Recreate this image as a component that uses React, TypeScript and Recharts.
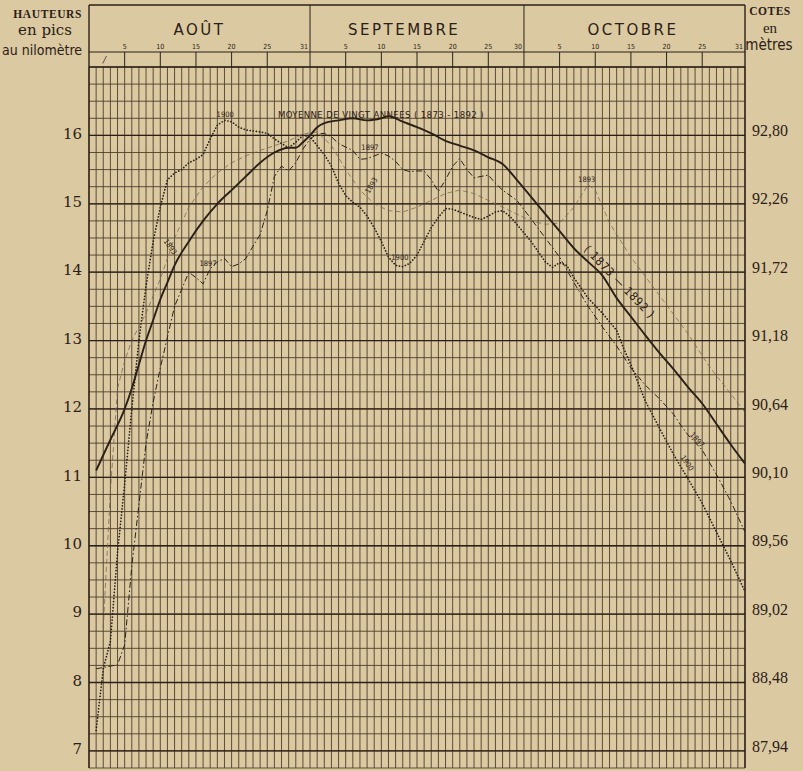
import React from 'react';
import { LineChart, Line, XAxis, YAxis, CartesianGrid, ReferenceDot } from 'recharts';

const W = 803;
const H = 771;
const LEFT_W = 89;
const RIGHT_W = 58;
const MONTH_AXIS_H = 40;
const DAY_AXIS_H = 27;
const BOTTOM_M = 3;
const HEADER_TOP = 5;
const HEADER_MID = 52;
const PLOT_TOP = MONTH_AXIS_H + DAY_AXIS_H;
const PLOT_BOTTOM = H - BOTTOM_M;
const PLOT_RIGHT = W - RIGHT_W;

const BG = '#dbc9a1';
const INK = '#2b2016';
const GRID = '#4e3e2c';
const SERIF_A = 'DejaVu Serif';
const SERIF_B = 'Liberation Serif';
const NARROW = "'DejaVu Sans Condensed', 'Liberation Sans Narrow', 'DejaVu Sans', sans-serif";

// Day index: 1 = 1 août ... 31 = 31 août, 32 = 1 sept ... 61 = 30 sept, 62 = 1 oct ... 92 = 31 oct
// Hauteurs en pics au nilomètre

// Moyenne de vingt années (1873-1892)
const meanDays = [1, 3, 5, 6, 7, 8, 9, 10, 11, 12, 14, 16, 18, 20, 22, 24, 26, 28, 29, 30, 31, 32, 33, 35, 37, 39, 41, 42, 44, 46, 48, 50, 52, 54, 56, 58, 60, 62, 64, 66, 68, 70, 72, 74, 76, 78, 80, 82, 84, 86, 88, 90, 92];
const meanValues = [11.1, 11.55, 12.0, 12.3, 12.65, 13.0, 13.3, 13.6, 13.85, 14.1, 14.45, 14.75, 15.0, 15.2, 15.4, 15.6, 15.75, 15.82, 15.82, 15.9, 16.0, 16.12, 16.18, 16.22, 16.25, 16.22, 16.25, 16.28, 16.2, 16.12, 16.03, 15.92, 15.85, 15.78, 15.68, 15.58, 15.35, 15.1, 14.85, 14.6, 14.35, 14.15, 13.95, 13.62, 13.35, 13.08, 12.82, 12.58, 12.32, 12.08, 11.78, 11.48, 11.2];

// Crue de 1900 (pointillé)
const days1900 = [1, 2, 3, 4, 5, 6, 7, 8, 9, 10, 11, 12, 13, 14, 15, 16, 17, 18, 19, 20, 21, 22, 24, 25, 26, 27, 28, 29, 30, 31, 32, 33, 34, 35, 36, 37, 38, 39, 40, 41, 42, 43, 44, 45, 46, 47, 48, 49, 50, 51, 52, 54, 55, 56, 57, 58, 59, 60, 62, 64, 65, 66, 67, 68, 70, 72, 74, 75, 76, 78, 80, 82, 84, 86, 88, 90, 92];
const values1900 = [7.3, 8.2, 8.6, 9.9, 10.9, 12.0, 13.0, 13.8, 14.45, 14.95, 15.35, 15.45, 15.5, 15.6, 15.65, 15.72, 15.95, 16.15, 16.22, 16.2, 16.12, 16.08, 16.05, 16.03, 15.95, 15.88, 15.82, 15.9, 16.0, 15.98, 15.85, 15.72, 15.55, 15.3, 15.12, 15.02, 14.95, 14.82, 14.65, 14.45, 14.22, 14.1, 14.08, 14.13, 14.25, 14.45, 14.65, 14.8, 14.93, 14.92, 14.88, 14.8, 14.77, 14.82, 14.88, 14.9, 14.82, 14.7, 14.45, 14.15, 14.07, 14.14, 14.1, 13.92, 13.62, 13.4, 13.15, 12.88, 12.65, 12.12, 11.72, 11.33, 10.98, 10.62, 10.2, 9.78, 9.33];

// Crue de 1897 (trait mixte)
const days1897 = [1, 2, 3, 4, 5, 6, 7, 8, 9, 10, 11, 12, 13, 14, 15, 16, 17, 18, 19, 20, 21, 22, 23, 24, 25, 26, 27, 28, 29, 30, 31, 32, 33, 34, 35, 36, 37, 38, 39, 40, 41, 42, 43, 44, 45, 46, 47, 48, 49, 50, 51, 52, 53, 54, 55, 56, 57, 58, 60, 62, 64, 66, 68, 70, 72, 74, 76, 78, 80, 82, 83, 84, 86, 88, 90, 92];
const values1897 = [8.2, 8.22, 8.24, 8.26, 8.55, 9.7, 10.6, 11.5, 12.1, 12.6, 13.05, 13.5, 13.75, 14.0, 13.92, 13.83, 14.05, 14.15, 14.2, 14.08, 14.12, 14.2, 14.38, 14.55, 14.9, 15.4, 15.55, 15.48, 15.6, 15.8, 15.95, 16.02, 16.03, 15.98, 15.88, 15.83, 15.78, 15.65, 15.66, 15.7, 15.74, 15.7, 15.62, 15.5, 15.47, 15.48, 15.48, 15.35, 15.18, 15.35, 15.55, 15.66, 15.5, 15.38, 15.4, 15.42, 15.3, 15.2, 15.05, 14.78, 14.5, 14.22, 13.85, 13.5, 13.2, 12.92, 12.6, 12.35, 12.15, 11.92, 11.76, 11.62, 11.4, 11.04, 10.65, 10.2];

// Crue de 1893 (trait fin)
const days1893 = [2, 3, 4, 5, 6, 8, 10, 12, 14, 16, 18, 20, 22, 24, 26, 28, 30, 32, 34, 36, 38, 40, 42, 44, 46, 48, 50, 52, 54, 56, 58, 60, 62, 64, 66, 68, 70, 71, 73, 76, 80, 84, 87, 90, 92];
const values1893 = [8.8, 10.8, 12.3, 12.7, 13.0, 13.4, 13.9, 14.5, 14.95, 15.25, 15.45, 15.6, 15.7, 15.78, 15.85, 15.92, 16.02, 16.05, 15.85, 15.5, 15.2, 15.0, 14.9, 14.88, 14.95, 15.05, 15.15, 15.2, 15.15, 15.05, 14.95, 14.85, 14.75, 14.7, 14.72, 14.95, 15.28, 15.2, 14.72, 14.22, 13.66, 13.1, 12.62, 12.22, 11.95];

// Axes
const dayTicks = [0, 5, 10, 15, 20, 25, 31, 36, 41, 46, 51, 56, 61, 66, 71, 76, 81, 86, 92];
const dayTickLabels = ['', '5', '10', '15', '20', '25', '31', '5', '10', '15', '20', '25', '30', '5', '10', '15', '20', '25', '31'];
const monthEdges = [31, 61];
const monthCenters = [15.5, 44.2, 76.3];
const monthNames = ['AOÛT', 'SEPTEMBRE', 'OCTOBRE'];
const levelTicks = [7, 8, 9, 10, 11, 12, 13, 14, 15, 16];
const leftTickLabels = ['7', '8', '9', '10', '11', '12', '13', '14', '15', '16'];
const rightTickLabels = ['87,94', '88,48', '89,02', '89,56', '90,10', '90,64', '91,18', '91,72', '92,26', '92,80'];

const X_DOMAIN: [number, number] = [0, 92];
const Y_DOMAIN: [number, number] = [6.75, 17];
const gridDays = Array.from({ length: 93 }, (_, i) => i);
const gridLevels = Array.from({ length: 42 }, (_, i) => 6.75 + i * 0.25);
const gridWholeLevels = [7, 8, 9, 10, 11, 12, 13, 14, 15, 16, 17];

// Annotations written on the chart (day, level)
const notes = [
  { day: 40.95, v: 16.3, text: 'MOYENNE DE VINGT ANNEES ( 1873 - 1892 )', rot: 0, size: 9.5, ls: 0.4 },
  { day: 19.1, v: 16.3, text: '1900', rot: 0, size: 7.5, ls: 0 },
  { day: 11.4, v: 14.37, text: '1893', rot: 55, size: 7.5, ls: 0 },
  { day: 16.7, v: 14.13, text: '1897', rot: 0, size: 7.5, ls: 0 },
  { day: 43.6, v: 14.21, text: '1900', rot: 0, size: 7.5, ls: 0 },
  { day: 39.4, v: 15.82, text: '1897', rot: 0, size: 7.5, ls: 0 },
  { day: 39.6, v: 15.27, text: '1893', rot: -60, size: 7.5, ls: 0 },
  { day: 69.8, v: 15.35, text: '1893', rot: 0, size: 7.5, ls: 0 },
  { day: 74.4, v: 13.86, text: '( 1873 — 1892 )', rot: 46, size: 11.5, ls: 0.8 },
  { day: 85.3, v: 11.55, text: '1897', rot: 48, size: 7.5, ls: 0 },
  { day: 83.9, v: 11.21, text: '1900', rot: 55, size: 7.5, ls: 0 },
];

const toSeries = (days: number[], vals: number[]) => days.map((d, i) => ({ day: d, v: vals[i] }));
const meanData = toSeries(meanDays, meanValues);
const data1900 = toSeries(days1900, values1900);
const data1897 = toSeries(days1897, values1897);
const data1893 = toSeries(days1893, values1893);

const xGen = (p: any) => {
  const s = p?.xAxis?.scale;
  if (typeof s === 'function') return gridDays.map((d) => s(d));
  const o = p.offset;
  return gridDays.map((d) => o.left + ((d - X_DOMAIN[0]) / (X_DOMAIN[1] - X_DOMAIN[0])) * o.width);
};
const yGenFor = (levels: number[]) => (p: any) => {
  const s = p?.yAxis?.scale;
  if (typeof s === 'function') return levels.map((v) => s(v));
  const o = p.offset;
  return levels.map((v) => o.top + ((Y_DOMAIN[1] - v) / (Y_DOMAIN[1] - Y_DOMAIN[0])) * o.height);
};

const renderDayTick = (p: any) => {
  const x = p.x;
  const v = p.payload?.value;
  const idx = dayTicks.indexOf(v);
  const label = idx >= 0 ? dayTickLabels[idx] : '';
  const isEdge = monthEdges.includes(v);
  const isBorder = v === X_DOMAIN[0] || v === X_DOMAIN[1];
  return (
    <g key={`d-${v}`}>
      {v === X_DOMAIN[0] && (
        <>
          <line x1={x} x2={PLOT_RIGHT} y1={HEADER_TOP} y2={HEADER_TOP} stroke={INK} strokeWidth={1.3} />
          <line x1={x} x2={PLOT_RIGHT} y1={HEADER_MID} y2={HEADER_MID} stroke={INK} strokeWidth={1} />
          <text x={x + 14} y={63} fontSize={9} fontStyle="italic" fontFamily={SERIF_A} fill={INK}>/</text>
        </>
      )}
      {isBorder ? (
        <line x1={x} x2={x} y1={HEADER_TOP} y2={PLOT_BOTTOM} stroke={INK} strokeWidth={1.4} />
      ) : (
        <line x1={x} x2={x} y1={isEdge ? HEADER_TOP : HEADER_MID} y2={PLOT_TOP} stroke={INK} strokeWidth={1} />
      )}
      {label && (
        <text
          x={isEdge || v === X_DOMAIN[1] ? x - 2 : x}
          y={49}
          textAnchor={isEdge || v === X_DOMAIN[1] ? 'end' : 'middle'}
          fontSize={7}
          fontFamily={NARROW}
          fill={INK}
        >
          {label}
        </text>
      )}
    </g>
  );
};

const renderMonthTick = (p: any) => {
  const idx = monthCenters.indexOf(p.payload?.value);
  return (
    <text
      key={`m-${idx}`}
      x={p.x}
      y={35}
      textAnchor="middle"
      fontSize={15}
      letterSpacing={2.5}
      fontFamily="DejaVu Sans"
      fill={INK}
    >
      {idx >= 0 ? monthNames[idx] : ''}
    </text>
  );
};

const renderLeftTick = (p: any) => {
  const idx = levelTicks.indexOf(p.payload?.value);
  return (
    <text key={`l-${idx}`} x={p.x} y={p.y - 2} dy="0.35em" textAnchor="end" fontSize={15} style={{ fontFamily: SERIF_A }} fill={INK}>
      {idx >= 0 ? leftTickLabels[idx] : ''}
    </text>
  );
};

const renderRightTick = (p: any) => {
  const idx = levelTicks.indexOf(p.payload?.value);
  return (
    <text key={`r-${idx}`} x={p.x} y={p.y - 5} dy="0.35em" textAnchor="start" fontSize={16} style={{ fontFamily: SERIF_B }} fill={INK}>
      {idx >= 0 ? rightTickLabels[idx] : ''}
    </text>
  );
};

const NoteShape = (n: (typeof notes)[number]) => (sp: any) => {
  const cx = sp.cx;
  const cy = sp.cy;
  return (
    <text
      x={cx}
      y={cy}
      dy="0.35em"
      textAnchor="middle"
      fontSize={n.size}
      letterSpacing={n.ls}
      fontFamily={NARROW}
      fill={INK}
      transform={n.rot ? `rotate(${n.rot} ${cx} ${cy})` : undefined}
    >
      {n.text}
    </text>
  );
};

export default function App() {
  return (
    <div style={{ position: 'relative', width: W, height: H, background: BG, overflow: 'hidden' }}>
      <style>{`body{margin:0;background:${BG};}`}</style>
      <LineChart
        width={W}
        height={H}
        margin={{ top: 0, right: 0, bottom: BOTTOM_M, left: 0 }}
      >
        <XAxis xAxisId={0} dataKey="day" type="number" domain={X_DOMAIN} allowDataOverflow hide />
        <XAxis
          xAxisId="months"
          dataKey="day"
          orientation="top"
          type="number"
          domain={X_DOMAIN}
          allowDataOverflow
          ticks={monthCenters}
          interval={0}
          height={MONTH_AXIS_H}
          axisLine={false}
          tickLine={false}
          tick={renderMonthTick}
        />
        <XAxis
          xAxisId="days"
          dataKey="day"
          orientation="top"
          type="number"
          domain={X_DOMAIN}
          allowDataOverflow
          ticks={dayTicks}
          interval={0}
          height={DAY_AXIS_H}
          axisLine={false}
          tickLine={false}
          tick={renderDayTick}
        />
        <YAxis
          yAxisId="left"
          type="number"
          domain={Y_DOMAIN}
          allowDataOverflow
          ticks={levelTicks}
          interval={0}
          width={LEFT_W}
          axisLine={false}
          tickLine={false}
          tickSize={0}
          tickMargin={7}
          tick={renderLeftTick}
        />
        <YAxis
          yAxisId="right"
          orientation="right"
          type="number"
          domain={Y_DOMAIN}
          allowDataOverflow
          ticks={levelTicks}
          interval={0}
          width={RIGHT_W}
          axisLine={false}
          tickLine={false}
          tickSize={0}
          tickMargin={7}
          tick={renderRightTick}
        />
        <CartesianGrid
          xAxisId={0}
          yAxisId="left"
          stroke={GRID}
          strokeWidth={0.9}
          fill="none"
          verticalCoordinatesGenerator={xGen}
          horizontalCoordinatesGenerator={yGenFor(gridLevels)}
        />
        <CartesianGrid
          xAxisId={0}
          yAxisId="left"
          stroke={INK}
          strokeWidth={1.3}
          fill="none"
          vertical={false}
          horizontalCoordinatesGenerator={yGenFor(gridWholeLevels)}
        />
        {/* invisible carriers so the header axes and the metre scale are laid out */}
        <Line data={meanData} xAxisId="months" yAxisId="right" dataKey="v" stroke="none" dot={false} activeDot={false} legendType="none" isAnimationActive={false} />
        <Line data={meanData} xAxisId="days" yAxisId="right" dataKey="v" stroke="none" dot={false} activeDot={false} legendType="none" isAnimationActive={false} />
        <Line
          data={data1893}
          xAxisId={0}
          yAxisId="left"
          dataKey="v"
          type="linear"
          stroke="#75634b"
          strokeWidth={0.75}
          strokeDasharray="5 3"
          dot={false}
          isAnimationActive={false}
        />
        <Line
          data={data1897}
          xAxisId={0}
          yAxisId="left"
          dataKey="v"
          type="linear"
          stroke={INK}
          strokeWidth={1}
          strokeDasharray="6 2.5 1.5 2.5"
          dot={false}
          isAnimationActive={false}
        />
        <Line
          data={data1900}
          xAxisId={0}
          yAxisId="left"
          dataKey="v"
          type="linear"
          stroke={INK}
          strokeWidth={1.7}
          strokeDasharray="0.1 3"
          strokeLinecap="round"
          dot={false}
          isAnimationActive={false}
        />
        <Line
          data={meanData}
          xAxisId={0}
          yAxisId="left"
          dataKey="v"
          type="monotone"
          stroke={INK}
          strokeWidth={1.9}
          dot={false}
          isAnimationActive={false}
        />
        {notes.map((n, i) => (
          <ReferenceDot
            key={i}
            xAxisId={0}
            yAxisId="left"
            x={n.day}
            y={n.v}
            r={2}
            fill="none"
            stroke="none"
            ifOverflow="visible"
            shape={NoteShape(n)}
          />
        ))}
      </LineChart>
      <svg width={W} height={H} style={{ position: 'absolute', left: 0, top: 0, pointerEvents: 'none' }}>
        <text x={82} y={18} textAnchor="end" fontSize={11.5} fontWeight="bold" letterSpacing={0.6} style={{ fontFamily: SERIF_B }} fill={INK}>HAUTEURS</text>
        <text x={45} y={35} textAnchor="middle" fontSize={15} style={{ fontFamily: SERIF_A }} fill={INK}>en pics</text>
        <text x={82} y={55} textAnchor="end" fontSize={14} fontFamily={NARROW} fill={INK}>au nilomètre</text>
        <text x={770} y={15} textAnchor="middle" fontSize={11.5} fontWeight="bold" letterSpacing={0.5} style={{ fontFamily: SERIF_B }} fill={INK}>COTES</text>
        <text x={770} y={33} textAnchor="middle" fontSize={15} style={{ fontFamily: SERIF_B }} fill={INK}>en</text>
        <text x={769} y={50} textAnchor="middle" fontSize={15} fontFamily={NARROW} fill={INK}>mètres</text>
      </svg>
    </div>
  );
}
